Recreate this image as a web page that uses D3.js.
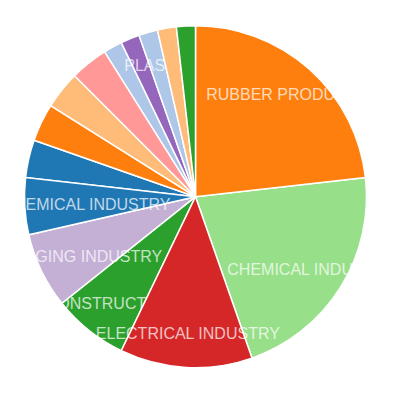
<!DOCTYPE html>
<html>
<head>
<meta charset="utf-8">
<script src="https://cdn.jsdelivr.net/npm/d3@7"></script>
<style>
  html, body { margin: 0; padding: 0; background: #fff; }
  svg { display: block; }
</style>
</head>
<body>
<svg id="chart" width="398" height="395"></svg>
<script>
// Data (in original data order). Names that cannot be read in the picture are left blank.
const categories = [
  "", "", "", "", "CONSTRUCTION", "CHEMICAL INDUSTRY", "ELECTRICAL INDUSTRY",
  "", "", "PACKAGING INDUSTRY", "PETROCHEMICAL INDUSTRY", "PLASTIC",
  "RUBBER PRODUCTS", "", ""
];
const values = [2, 1, 2, 2, 4, 12, 7, 2, 1, 4, 3, 1, 13, 1, 1];
const palette = ["#1f77b4","#aec7e8","#ff7f0e","#ffbb78","#2ca02c",
                 "#98df8a","#d62728","#ff9896","#9467bd","#c5b0d5"];

const svg = d3.select("#chart");
const cx = 195.5, cy = 196.7, radius = 171;
const g = svg.append("g").attr("transform", `translate(${cx},${cy})`);

const color = d3.scaleOrdinal().domain(d3.range(values.length)).range(palette);
const pie = d3.pie().value(d => d.value);
const arc = d3.arc().innerRadius(0).outerRadius(radius);
const labelArc = d3.arc().innerRadius(radius * 0.8).outerRadius(radius * 0.8);

const data = values.map((v, i) => ({ name: categories[i], value: v, index: i }));

const slices = g.selectAll("g.slice")
  .data(pie(data))
  .enter().append("g")
  .attr("class", "slice");

slices.append("path")
  .attr("d", arc)
  .attr("fill", d => color(d.data.index))
  .attr("stroke", "#fff")
  .attr("stroke-width", 1.5);

slices.filter(d => d.data.name !== "")
  .append("text")
  .attr("transform", d => `translate(${labelArc.centroid(d)})`)
  .attr("dy", "0.35em")
  .attr("text-anchor", "middle")
  .style("font-family", "'Liberation Sans', Arial, sans-serif")
  .style("font-size", "16px")
  .style("fill", "#fff")
  .style("fill-opacity", 0.72)
  .text(d => d.data.name);
</script>
</body>
</html>
